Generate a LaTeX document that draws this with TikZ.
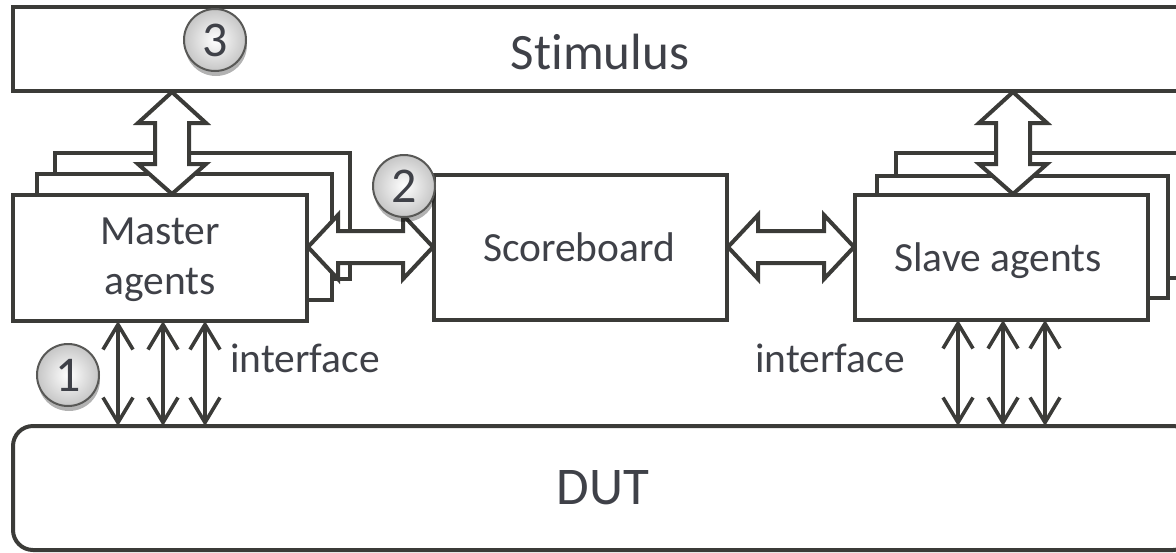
\documentclass[tikz,border=0pt]{standalone}
\usepackage{fontspec}
\setmainfont{Carlito}[Ligatures={NoCommon}]
\usetikzlibrary{arrows.meta,calc,fit,shadows}
\definecolor{ln}{HTML}{3B3B38}
\definecolor{tx}{HTML}{3F4148}
\newcommand\vdblarrow[2]{%
  \draw[blockarrow] (#1) -- ++(34,31) -- ++(-17,0) -- ($(#2)+(17,-30)$) -- ++(17,0) -- (#2)
    -- ++(-34,-30) -- ++(17,0) -- ($(#1)+(-17,31)$) -- ++(-17,0) -- cycle;}
\newcommand\hdblarrow[2]{%
  \draw[blockarrow] (#1) -- ++(30,-32) -- ++(0,16) -- ($(#2)+(-30,-16)$) -- ++(0,-16) -- (#2)
    -- ++(-30,32) -- ++(0,-16) -- ($(#1)+(30,16)$) -- ++(0,16) -- cycle;}
\begin{document}
\begin{tikzpicture}[x=0.5pt,y=-0.5pt,
  box/.style={draw=ln,line width=2pt,fill=white,inner sep=0pt},
  lbl/.style={text=tx,font=\fontsize{20.75}{25}\selectfont,inner sep=0pt,align=center},
  biglbl/.style={text=tx,font=\fontsize{25.5}{30}\selectfont,inner sep=0pt},
  blockarrow/.style={draw=ln,fill=white,line width=2pt,line join=miter},
  iface/.style={draw=ln,line width=1.8pt,{Straight Barb[length=12.5pt,width=15pt,line width=1.8pt]}-{Straight Barb[length=12.5pt,width=15pt,line width=1.8pt]}},
  badge/.style={circle,draw=ln!85,line width=1pt,minimum size=31pt,inner sep=0pt,
    shading=radial,inner color=white,outer color=gray!45,text=tx,
    font=\fontsize{25}{28}\selectfont,
    drop shadow={shadow xshift=0.5pt,shadow yshift=-2.5pt,opacity=0.3,fill=black}}
]
\clip (0,0) rectangle (1176,552);
\useasboundingbox (0,0) rectangle (1176,552);

% stimulus
\node[box,fit={(13,7) (1189,91)}] (stim) {};
\node[biglbl] (stimt) at (600,52) {Stimulus};

% master agents stack
\node[box,fit={(55,153) (350,279)}] (mback) {};
\node[box,fit={(37,174) (332,300)}] (mmid) {};
\node[box,fit={(13,195) (307,321)}] (mfront) {};
\node[lbl] (mfrontt) at (160,260) {Master\\agents};

% slave agents stack
\node[box,fit={(896,153) (1210,278)}] (sback) {};
\node[box,fit={(877,176) (1168,298)}] (smid) {};
\node[box,fit={(855,195) (1148,320)}] (sfront) {};
\node[lbl] (sfrontt) at (998,261) {Slave agents};

% scoreboard
\node[box,fit={(434,175) (727,320)}] (score) {};
\node[lbl] (scoret) at (579,247) {Scoreboard};

% DUT
\node[box,rounded corners=10pt,fit={(13,426) (1193,550)}] (dut) {};
\node[biglbl,font=\fontsize{26.5}{30}\selectfont] (dutt) at (603,488) {DUT};

% block arrows
\coordinate (ms1) at (172,92);
\coordinate (ms2) at (172,194);
\coordinate (ss1) at (1013,92);
\coordinate (ss2) at (1013,194);
\coordinate (mc1) at (308,247);
\coordinate (mc2) at (433,247);
\coordinate (sc1) at (728,247);
\coordinate (sc2) at (854,247);
\vdblarrow{ms1}{ms2}
\vdblarrow{ss1}{ss2}
\hdblarrow{mc1}{mc2}
\hdblarrow{sc1}{sc2}

% interface arrows
\foreach \i/\x in {1/118,2/163,3/205}{
  \coordinate (mi\i a) at (\x,321);
  \coordinate (mi\i b) at (\x,426);
  \draw[iface] (mi\i a) -- (mi\i b);
}
\foreach \i/\x in {1/958,2/1003,3/1045}{
  \coordinate (si\i a) at (\x,320);
  \coordinate (si\i b) at (\x,426);
  \draw[iface] (si\i a) -- (si\i b);
}
\node[lbl,anchor=base west] (if1) at (230,372) {interface};
\node[lbl,anchor=base west] (if2) at (755,372) {interface};

% badges
\node[badge] (c3) at (215,40) {3};
\node[badge] (c2) at (404,186) {2};
\node[badge] (c1) at (68,375) {1};
\end{tikzpicture}
\end{document}
